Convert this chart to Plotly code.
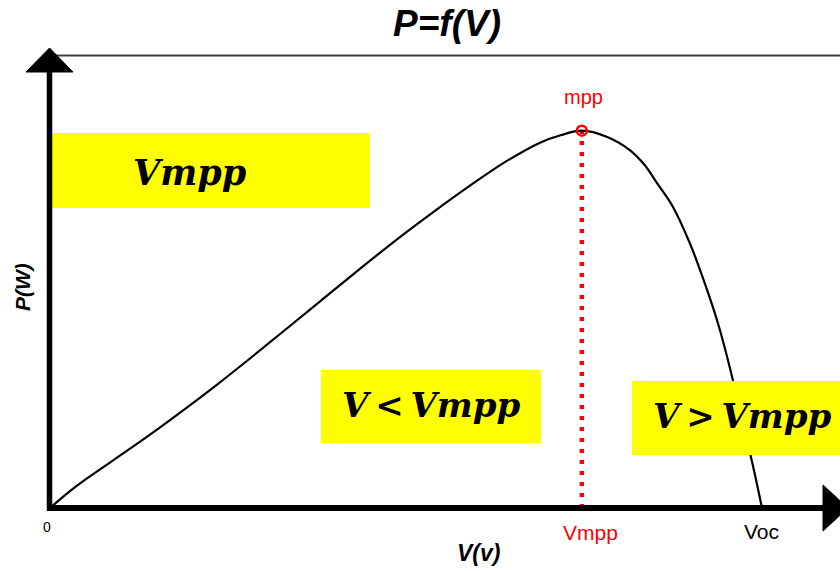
import plotly.graph_objects as go

# ---------------- data ----------------
V_MPP = 17.18          # voltage at maximum power point (arbitrary units)
V_OC = 23.0            # open-circuit voltage
P_MAX = 60.0           # power at mpp

voltage = [0.0, 0.83, 1.98, 3.14, 4.29, 5.45, 6.60, 7.75, 8.91, 10.06, 11.21,
           12.37, 13.52, 14.67, 15.83, 16.52, 17.18, 17.98, 18.73, 19.21, 19.61,
           20.12, 20.67, 21.19, 21.61, 21.98, 22.38, 22.69, 23.0]
power = [0.0, 3.39, 7.37, 11.34, 15.48, 19.83, 24.33, 28.94, 33.61, 38.22,
         42.73, 47.02, 51.10, 54.92, 58.10, 59.32, 60.0, 59.05, 56.93, 54.55,
         51.65, 47.92, 42.10, 35.19, 28.83, 21.95, 13.47, 7.11, 0.0]

tick_vals = [0, V_MPP, V_OC]
tick_text = ["0", "Vmpp", "Voc"]

X_MAX = 25.52
Y_MAX = 71.88

# ---------------- layout helpers (pixel -> paper) ----------------
W, H = 840, 571
ML, MR, MT, MB = 50, 0, 56, 63
PW, PH = W - ML - MR, H - MT - MB


def px(x):
    return (x - ML) / PW


def py(y):
    return (H - MB - y) / PH


fig = go.Figure()

# red dotted line from mpp down to axis
fig.add_trace(go.Scatter(
    x=[V_MPP, V_MPP], y=[0, P_MAX], mode="lines",
    line=dict(color="#ff0000", width=4.5, dash="4px,7px"),
    hoverinfo="skip", showlegend=False))

# P-V curve
fig.add_trace(go.Scatter(
    x=voltage, y=power, mode="lines",
    line=dict(color="black", width=2.2, shape="spline", smoothing=1.0),
    showlegend=False, cliponaxis=False))

# mpp marker
fig.add_trace(go.Scatter(
    x=[V_MPP], y=[P_MAX], mode="markers",
    marker=dict(symbol="circle-open", size=10, color="#ff0000",
                line=dict(width=2.5, color="#ff0000")),
    showlegend=False, cliponaxis=False))

shapes = []
# yellow boxes (drawn over the curve, as in the original)
for (x0, x1, y0, y1) in [(52, 370, 133, 208), (321, 541, 370, 443), (632, 860, 381, 455)]:
    shapes.append(dict(type="rect", xref="paper", yref="paper",
                       x0=px(x0), x1=px(x1), y0=py(y1), y1=py(y0),
                       fillcolor="#ffff00", line=dict(width=0), layer="above"))
# top thin line
shapes.append(dict(type="line", xref="paper", yref="paper",
                   x0=px(50), x1=px(845), y0=py(55.5), y1=py(55.5),
                   line=dict(color="#404040", width=2)))
# y axis line
shapes.append(dict(type="line", xref="paper", yref="paper",
                   x0=px(49.5), x1=px(49.5), y0=py(511), y1=py(70),
                   line=dict(color="black", width=5.5)))
# x axis line
shapes.append(dict(type="line", xref="paper", yref="paper",
                   x0=px(47), x1=px(826), y0=py(508), y1=py(508),
                   line=dict(color="black", width=6)))
# arrow heads
shapes.append(dict(type="path", xref="paper", yref="paper",
                   path="M {a},{b} L {c},{d} L {e},{f} Z".format(
                       a=px(49.5), b=py(48), c=px(26), d=py(72), e=px(73), f=py(72)),
                   fillcolor="black", line=dict(color="black", width=1)))
shapes.append(dict(type="path", xref="paper", yref="paper",
                   path="M {a},{b} L {c},{d} L {e},{f} Z".format(
                       a=px(848), b=py(508), c=px(823), d=py(485), e=px(823), f=py(531)),
                   fillcolor="black", line=dict(color="black", width=1)))

math_font = dict(family="DejaVu Serif", size=35, color="black")
math_font2 = dict(family="DejaVu Serif", size=34, color="black")
TS = "\u2009"
annotations = [
    dict(text="<b><i>Vmpp</i></b>", xref="paper", yref="paper",
         x=px(190), y=py(172), xanchor="center", yanchor="middle",
         showarrow=False, font=math_font),
    dict(text="<b><i>V</i>" + TS + "&lt;" + TS + "<i>Vmpp</i></b>", xref="paper", yref="paper",
         x=px(431), y=py(405), xanchor="center", yanchor="middle",
         showarrow=False, font=math_font2),
    dict(text="<b><i>V</i>" + TS + "&gt;" + TS + "<i>Vmpp</i></b>", xref="paper", yref="paper",
         x=px(742), y=py(416), xanchor="center", yanchor="middle",
         showarrow=False, font=math_font2),
    dict(text="mpp", x=V_MPP, y=P_MAX, xref="x", yref="y",
         yshift=34, xshift=2, xanchor="center", yanchor="middle",
         showarrow=False, font=dict(family="Liberation Sans", size=20, color="#ff0000")),
    dict(text="<b><i>V(v)</i></b>", xref="paper", yref="paper",
         x=px(478), y=py(553), xanchor="center", yanchor="middle",
         showarrow=False, font=dict(family="Liberation Sans", size=23, color="black")),
    dict(text="<b><i>P(W)</i></b>", xref="paper", yref="paper",
         x=px(22), y=py(287), xanchor="center", yanchor="middle", textangle=-90,
         showarrow=False, font=dict(family="Liberation Sans", size=21, color="black")),
]

# x tick labels (drawn at the axis values)
tick_styles = [(-3, 527, 14, "black"), (9, 532, 21, "#ff0000"), (0, 531, 21, "black")]
for val, txt, (dx, yc, fs, col) in zip(tick_vals, tick_text, tick_styles):
    annotations.append(dict(text=txt, x=val, xref="x", y=py(yc), yref="paper",
                            xshift=dx, xanchor="center", yanchor="middle",
                            showarrow=False,
                            font=dict(family="Liberation Sans", size=fs, color=col)))

fig.update_layout(
    width=W, height=H, autosize=False,
    margin=dict(l=ML, r=MR, t=MT, b=MB),
    paper_bgcolor="white", plot_bgcolor="white",
    title=dict(text="<b><i>P=f(V)</i></b>", x=447 / W, xanchor="center",
               y=1 - 23 / H, yanchor="middle", yref="container",
               font=dict(family="Liberation Sans", size=37, color="black")),
    shapes=shapes, annotations=annotations,
    xaxis=dict(range=[0, X_MAX], showgrid=False, zeroline=False, showline=False,
               showticklabels=False, ticks="", fixedrange=True),
    yaxis=dict(range=[0, Y_MAX], showgrid=False, zeroline=False, showline=False,
               showticklabels=False, ticks="", fixedrange=True),
)

fig.write_html("out.html",
               config={"displayModeBar": False},
               post_script="document.body.style.margin='0px';"
                           "document.body.style.overflow='hidden';")
